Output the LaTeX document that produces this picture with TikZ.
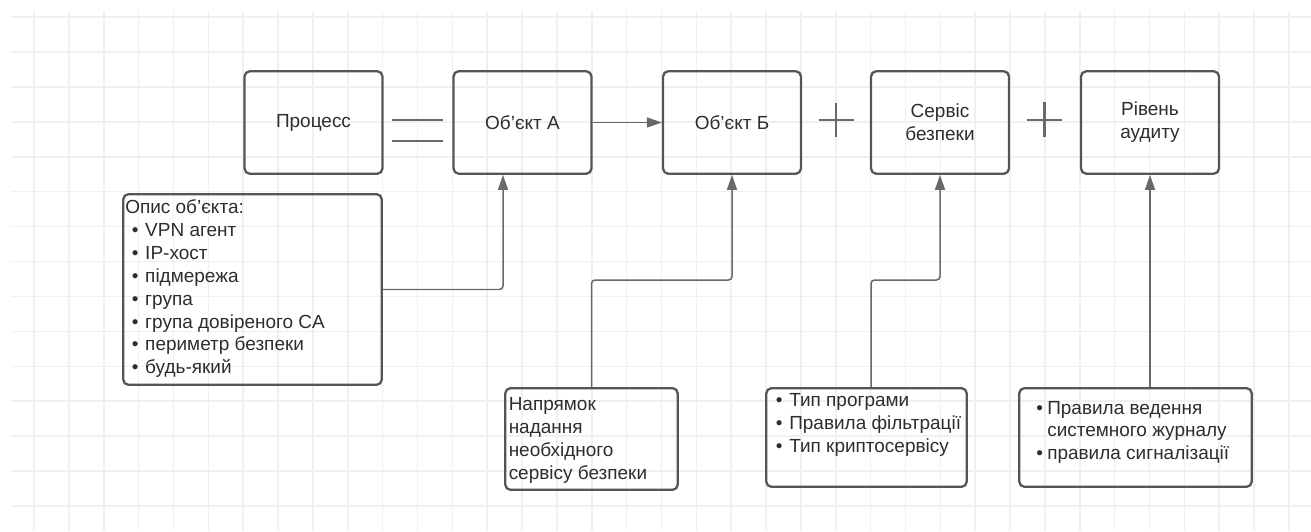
\documentclass[tikz,border=0pt]{standalone}
\usepackage{fontspec}
\setmainfont{Liberation Sans}
\usetikzlibrary{arrows.meta}
\definecolor{boxcolor}{RGB}{85, 85, 85}
\definecolor{linecolor}{RGB}{105, 105, 105}
\definecolor{textcolor}{RGB}{45, 45, 45}
\definecolor{gridcolor}{RGB}{240, 240, 240}
\newcommand{\bitem}[1][0.27cm]{\makebox[#1][l]{\textbullet}}
\newcommand{\notebox}[3]{\parbox[t][#2][t]{#1}{\begin{tabular}[t]{@{}l@{}}#3\end{tabular}}}

\begin{document}
\begin{tikzpicture}[
    >={Triangle[length=0.3cm, width=0.2cm]},
    block/.style={rectangle, rounded corners=3pt, draw=boxcolor, line width=1.3pt, minimum width=2.76cm, minimum height=2.05cm, align=center, text=textcolor, font=\fontsize{10.8}{13}\selectfont},
    note/.style={rectangle, rounded corners=3pt, draw=boxcolor, line width=1.3pt, text=textcolor, font=\fontsize{10.8}{13}\selectfont},
    arrow/.style={->, draw=linecolor, line width=0.85pt, rounded corners=2pt},
    sign/.style={draw=linecolor, line width=1.3pt},
    gridline/.style={draw=gridcolor, line width=0.9pt}
]

\useasboundingbox (0, 0) rectangle (26.22, 10.62);

% Background grid
\foreach \i in {0,...,36}
    \draw[gridline] (0.68+0.6972*\i, 0) -- (0.68+0.6972*\i, 10.40);
\foreach \j in {0,...,14}
    \draw[gridline] (0.22, 10.28-0.6986*\j) -- (26.22, 10.28-0.6986*\j);

% Main row
\node[block] (proc) at (6.27, 8.17) {Процесс};
\node[block] (objA) at (10.45, 8.17) {Об'єкт А};
\node[block] (objB) at (14.64, 8.17) {Об'єкт Б};
\node[block] (serv) at (18.80, 8.17) {Сервіс\\безпеки};
\node[block] (audit) at (23.00, 8.17) {Рівень\\аудиту};

% Equals and plus signs
\draw[sign] (7.84, 8.22) -- (8.86, 8.22);
\draw[sign] (7.84, 7.80) -- (8.86, 7.80);
\draw[sign] (16.37, 8.22) -- (17.07, 8.22);
\draw[sign] (16.72, 7.88) -- (16.72, 8.56);
\draw[sign] (20.54, 8.22) -- (21.24, 8.22);
\draw[sign] (20.89, 7.88) -- (20.89, 8.58);

% Descriptions
\node[note, inner xsep=0.04cm, inner ysep=0.073cm] (opys) at (5.05, 4.83) {\notebox{5.09cm}{3.668cm}{
    Опис об'єкта:\\
    \hspace*{0.13cm}\bitem VPN агент\\
    \hspace*{0.13cm}\bitem IP-хост\\
    \hspace*{0.13cm}\bitem підмережа\\
    \hspace*{0.13cm}\bitem група\\
    \hspace*{0.13cm}\bitem група довіреного CA\\
    \hspace*{0.13cm}\bitem периметр безпеки\\
    \hspace*{0.13cm}\bitem будь-який}};

\node[note, inner xsep=0.07cm, inner ysep=0.137cm] (napr) at (11.83, 1.84) {\notebox{3.31cm}{1.76cm}{
    Напрямок\\
    надання\\
    необхідного\\
    сервісу безпеки}};

\node[note, inner xsep=0.19cm, inner ysep=0.052cm] (typ) at (17.33, 1.87) {\notebox{3.63cm}{1.87cm}{
    \bitem Тип програми\\
    \bitem Правила фільтрації\\
    \bitem Тип криптосервісу}};

\node[note, inner xsep=0.34cm, inner ysep=0.20cm] (prav) at (22.71, 1.87) {\notebox{3.97cm}{1.574cm}{
    \bitem[0.22cm]Правила ведення\\
    \hspace*{0.22cm}системного журналу\\
    \bitem[0.22cm]правила сигналізації}};

% Connectors
\draw[arrow] (objA.east) -- (objB.west);
\draw[arrow] (opys.east) -| ([xshift=-0.39cm]objA.south);
\draw[arrow] (napr.north) -- ++(0, 2.14) -| (objB.south);
\draw[arrow] ([xshift=0.09cm]typ.north) -- ++(0, 2.14) -| (serv.south);
\draw[arrow] (prav.north -| audit.south) -- (audit.south);

\end{tikzpicture}
\end{document}
